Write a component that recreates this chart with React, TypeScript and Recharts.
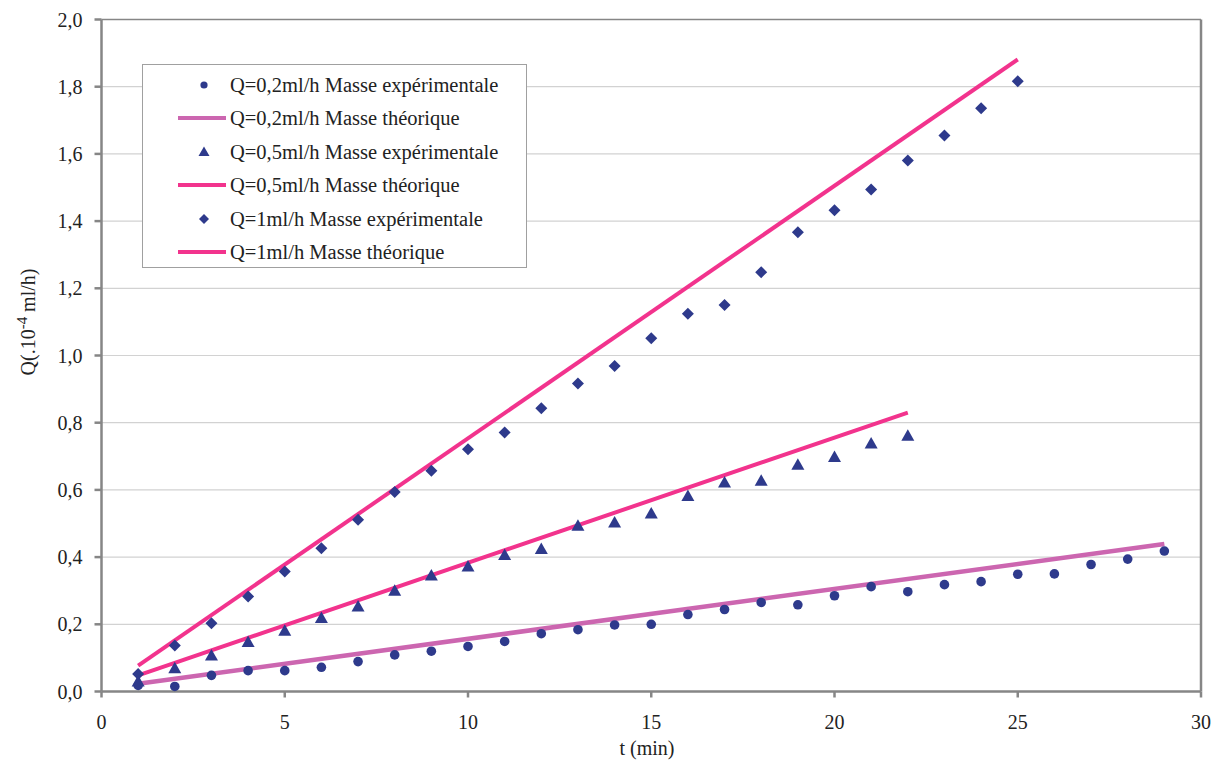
import React from 'react'
import { ScatterChart, Scatter, XAxis, YAxis, CartesianGrid, ReferenceLine } from 'recharts'

const W = 1223
const H = 760

const NAVY = '#2e3a8c'
const PINK = '#f2338d'
const ORCHID = '#cc66b0'
const AXIS = '#868686'
const GRID = '#d2d2d2'
const FONT = '"Liberation Serif", "Times New Roman", serif'

// axis ticks
const xTicks = [0, 5, 10, 15, 20, 25, 30]
const yTicks = [0, 0.2, 0.4, 0.6, 0.8, 1.0, 1.2, 1.4, 1.6, 1.8, 2.0]

// Q=0,2 ml/h experimental
const t02 = [1, 2, 3, 4, 5, 6, 7, 8, 9, 10, 11, 12, 13, 14, 15, 16, 17, 18, 19, 20, 21, 22, 23, 24, 25, 26, 27, 28, 29]
const q02 = [0.018, 0.015, 0.048, 0.062, 0.062, 0.072, 0.089, 0.109, 0.12, 0.134, 0.149, 0.172, 0.184, 0.198, 0.2, 0.229, 0.244, 0.265, 0.258, 0.285, 0.312, 0.297, 0.318, 0.327, 0.349, 0.35, 0.378, 0.394, 0.418]

// Q=0,5 ml/h experimental
const t05 = [1, 2, 3, 4, 5, 6, 7, 8, 9, 10, 11, 12, 13, 14, 15, 16, 17, 18, 19, 20, 21, 22]
const q05 = [0.03, 0.069, 0.107, 0.147, 0.181, 0.219, 0.253, 0.3, 0.345, 0.372, 0.406, 0.424, 0.493, 0.503, 0.53, 0.582, 0.622, 0.627, 0.675, 0.698, 0.738, 0.761]

// Q=1 ml/h experimental
const t1 = [1, 2, 3, 4, 5, 6, 7, 8, 9, 10, 11, 12, 13, 14, 15, 16, 17, 18, 19, 20, 21, 22, 23, 24, 25]
const q1 = [0.052, 0.137, 0.203, 0.283, 0.357, 0.426, 0.511, 0.594, 0.657, 0.721, 0.771, 0.843, 0.917, 0.969, 1.051, 1.124, 1.15, 1.248, 1.367, 1.432, 1.494, 1.58, 1.655, 1.736, 1.816]

// theoretical mass (straight lines, end points)
const tTh02 = [1, 29]
const qTh02 = [0.023, 0.439]
const tTh05 = [1, 22]
const qTh05 = [0.048, 0.83]
const tTh1 = [1, 25]
const qTh1 = [0.077, 1.881]

const zip = (ts: number[], qs: number[]) => ts.map((t, i) => ({ t, q: qs[i] }))

const fmtY = (v: number) => v.toFixed(1).replace('.', ',')

const Dot = (p: any) => <circle cx={p.cx} cy={p.cy} r={4.8} fill={NAVY} />
const Tri = (p: any) => (
  <polygon
    points={`${p.cx},${p.cy - 6.5} ${p.cx - 6.5},${p.cy + 5} ${p.cx + 6.5},${p.cy + 5}`}
    fill={NAVY}
  />
)
const Diamond = (p: any) => (
  <polygon
    points={`${p.cx},${p.cy - 6} ${p.cx + 6},${p.cy} ${p.cx},${p.cy + 6} ${p.cx - 6},${p.cy}`}
    fill={NAVY}
  />
)
const NoMark = () => <g />

const legendItems = [
  { label: 'Q=0,2ml/h Masse expérimentale', kind: 'dot' },
  { label: 'Q=0,2ml/h Masse théorique', kind: 'line', color: ORCHID },
  { label: 'Q=0,5ml/h Masse expérimentale', kind: 'tri' },
  { label: 'Q=0,5ml/h Masse théorique', kind: 'line', color: PINK },
  { label: 'Q=1ml/h Masse expérimentale', kind: 'diamond' },
  { label: 'Q=1ml/h Masse théorique', kind: 'line', color: PINK },
]

function LegendBox() {
  return (
    <div
      style={{
        position: 'absolute',
        left: 142,
        top: 64,
        width: 385,
        height: 204,
        background: '#fff',
        border: '1px solid #a0a0a0',
        boxSizing: 'border-box',
      }}
    >
      {legendItems.map((it, i) => {
        const cy = 19.5 + i * 33.5
        return (
          <div key={i} style={{ position: 'absolute', left: 0, top: cy - 12, height: 24, width: '100%' }}>
            <svg width={90} height={24} style={{ position: 'absolute', left: 0, top: 0 }}>
              {it.kind === 'dot' && <circle cx={61} cy={12} r={3.6} fill={NAVY} />}
              {it.kind === 'tri' && <polygon points="61,6.5 55.5,16 66.5,16" fill={NAVY} />}
              {it.kind === 'diamond' && <polygon points="61,7 66,12 61,17 56,12" fill={NAVY} />}
              {it.kind === 'line' && <line x1={35} x2={83} y1={12} y2={12} stroke={it.color} strokeWidth={4} />}
            </svg>
            <span
              style={{
                position: 'absolute',
                left: 87,
                top: 0,
                lineHeight: '24px',
                fontFamily: FONT,
                fontSize: 20.5,
                color: '#222',
                whiteSpace: 'nowrap',
              }}
            >
              {it.label}
            </span>
          </div>
        )
      })}
    </div>
  )
}

export default function App() {
  return (
    <div style={{ position: 'absolute', left: 0, top: 0, width: W, height: H, background: '#fff' }}>
      <ScatterChart width={W} height={H} margin={{ top: 19.5, right: 22, bottom: 0, left: 0 }}>
        <CartesianGrid horizontal vertical={false} stroke={GRID} strokeWidth={1.2} />
        <XAxis
          type="number"
          dataKey="t"
          domain={[0, 30]}
          ticks={xTicks}
          height={68.5}
          stroke={AXIS}
          strokeWidth={2.5}
          tickSize={6}
          tickMargin={17}
          tick={{ fill: '#222', fontSize: 20, fontFamily: FONT }}
          label={{
            content: () => (
              <text x={647} y={755} textAnchor="middle" fill="#222" fontSize={20} fontFamily={FONT}>
                t (min)
              </text>
            ),
          }}
        />
        <YAxis
          type="number"
          dataKey="q"
          domain={[0, 2]}
          ticks={yTicks}
          width={101.5}
          stroke={AXIS}
          strokeWidth={2.5}
          tickSize={7}
          tickMargin={12}
          tickFormatter={fmtY}
          tick={{ fill: '#222', fontSize: 20, fontFamily: FONT }}
          label={{
            content: () => (
              <text
                transform="translate(35,322) rotate(-90)"
                textAnchor="middle"
                fill="#222"
                fontSize={20}
                fontFamily={FONT}
              >
                Q(.10
                <tspan dy={-8} fontSize={15}>-4</tspan>
                <tspan dy={8}> ml/h)</tspan>
              </text>
            ),
          }}
        />
        <ReferenceLine x={30} stroke={AXIS} strokeWidth={2.5} />
        <ReferenceLine y={2} stroke={AXIS} strokeWidth={1.5} />

        <Scatter data={zip(tTh02, qTh02)} line={{ stroke: ORCHID, strokeWidth: 4.5 }} shape={NoMark} isAnimationActive={false} />
        <Scatter data={zip(tTh05, qTh05)} line={{ stroke: PINK, strokeWidth: 4 }} shape={NoMark} isAnimationActive={false} />
        <Scatter data={zip(tTh1, qTh1)} line={{ stroke: PINK, strokeWidth: 4 }} shape={NoMark} isAnimationActive={false} />

        <Scatter data={zip(t02, q02)} shape={Dot} isAnimationActive={false} />
        <Scatter data={zip(t05, q05)} shape={Tri} isAnimationActive={false} />
        <Scatter data={zip(t1, q1)} shape={Diamond} isAnimationActive={false} />
      </ScatterChart>
      <LegendBox />
    </div>
  )
}
